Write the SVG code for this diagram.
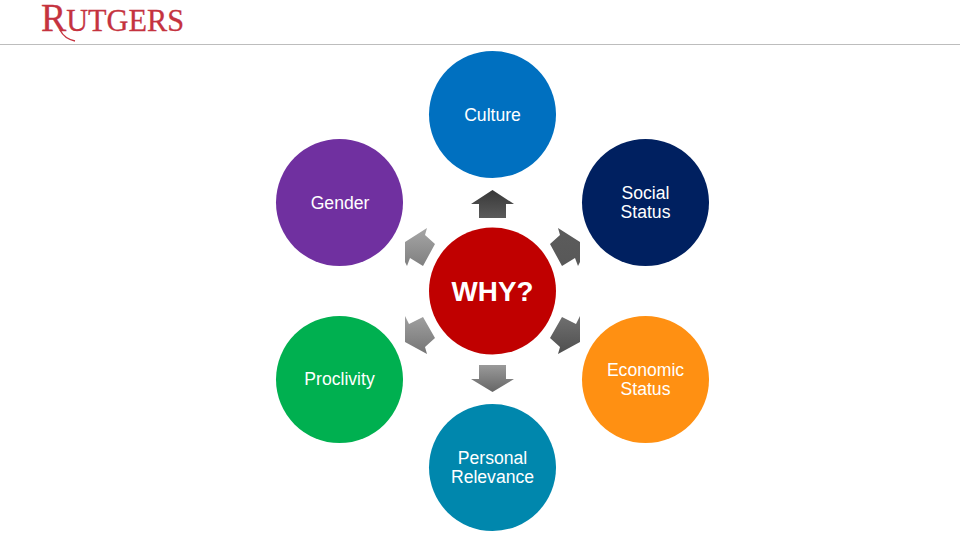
<svg xmlns="http://www.w3.org/2000/svg" width="960" height="540" viewBox="0 0 960 540">
<defs>
<style>
.lab{font-family:"Liberation Sans",Arial,sans-serif;font-size:17.6px;fill:#fff;text-anchor:middle}
.why{font-family:"Liberation Sans",Arial,sans-serif;font-size:27.8px;font-weight:700;fill:#fff;text-anchor:middle}
.logo{font-family:"Liberation Serif","Times New Roman",serif;fill:#c5333f;stroke:#c5333f;stroke-width:.3}
</style>
<linearGradient id="gTop" x1="0" y1="0" x2="0" y2="1"><stop offset="0" stop-color="#383838"/><stop offset="1" stop-color="#5a5a5a"/></linearGradient>
<linearGradient id="gUR" x1="0" y1="0" x2="0" y2="1"><stop offset="0" stop-color="#5c5c5c"/><stop offset="1" stop-color="#585858"/></linearGradient>
<linearGradient id="gLR" x1="0" y1="0" x2="0" y2="1"><stop offset="0" stop-color="#707070"/><stop offset="1" stop-color="#4f4f4f"/></linearGradient>
<linearGradient id="gBot" x1="0" y1="0" x2="0" y2="1"><stop offset="0" stop-color="#9a9a9a"/><stop offset="1" stop-color="#666"/></linearGradient>
<linearGradient id="gLL" x1="0" y1="0" x2="0" y2="1"><stop offset="0" stop-color="#a0a0a0"/><stop offset="1" stop-color="#757575"/></linearGradient>
<linearGradient id="gUL" x1="0" y1="0" x2="0" y2="1"><stop offset="0" stop-color="#a6a6a6"/><stop offset="1" stop-color="#808080"/></linearGradient>
</defs>
<rect width="960" height="540" fill="#fff"/>
<g id="header">
<text class="logo" x="41" y="31" font-size="32" textLength="143" lengthAdjust="spacingAndGlyphs"><tspan font-size="40">R</tspan>UTGERS</text>
<path d="M60 30C63 36 68 39.500 75 41" fill="none" stroke="#c5333f" stroke-width="1.4"/>
<line x1="0" y1="44.500" x2="960" y2="44.500" stroke="#bdbdbd" stroke-width="1"/>
</g>
<g id="connectors">
<polygon fill="url(#gTop)" points="492.500,190 514,204 506,204 506,218 479,218 479,204 471,204"/>
<polygon fill="url(#gUR)" points="558,228 560,235 550,244 562,266 575,258 578,266 580,262 580,242"/>
<polygon fill="url(#gLR)" points="580,316 576,324 562,317 550,338 560,347 558,354 580,342"/>
<polygon fill="url(#gBot)" points="479,365 506,365 506,379 514,379 492.500,392 471,379 479,379"/>
<polygon fill="url(#gLL)" points="405,316 409,324 423,317 435,338 425,347 427,354 405,342"/>
<polygon fill="url(#gUL)" points="427,228 425,235 435,244 423,266 410,258 407,266 405,262 405,242"/>
</g>
<g id="culture"><circle cx="492.500" cy="114.500" r="63.500" fill="#0070c0"/><text class="lab" x="492.500" y="120.500">Culture</text></g>
<g id="social-status"><circle cx="645.500" cy="202.500" r="63.500" fill="#002060"/><text class="lab" x="645.500" y="198.500">Social</text><text class="lab" x="645.500" y="218">Status</text></g>
<g id="gender"><circle cx="339.500" cy="202.500" r="63.500" fill="#7030a0"/><text class="lab" x="340" y="208.500">Gender</text></g>
<g id="why"><circle cx="492.500" cy="291" r="63.500" fill="#c00000"/><text class="why" x="492.500" y="301">WHY?</text></g>
<g id="proclivity"><circle cx="339.500" cy="379.500" r="63.500" fill="#00b050"/><text class="lab" x="339.500" y="384.500">Proclivity</text></g>
<g id="economic-status"><circle cx="645.500" cy="379.500" r="63.500" fill="#ff9012"/><text class="lab" x="645.500" y="375.500">Economic</text><text class="lab" x="645.500" y="394.500">Status</text></g>
<g id="personal-relevance"><circle cx="492.500" cy="467.500" r="63.500" fill="#0087ad"/><text class="lab" x="492.500" y="463.500">Personal</text><text class="lab" x="492.500" y="482.500">Relevance</text></g>
</svg>
